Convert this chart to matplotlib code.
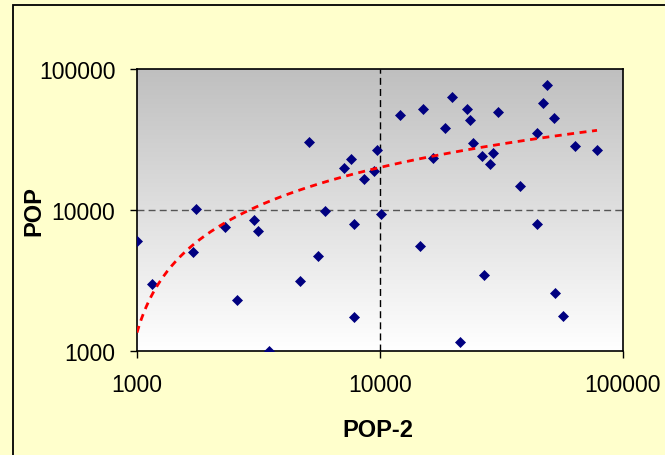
import numpy as np
import matplotlib
matplotlib.use("Agg")
import matplotlib.pyplot as plt
from matplotlib.patches import Rectangle

pop2 = [1000, 1152, 1700, 1749, 2302, 2579, 3030, 3148, 3491, 4690,
        5560, 5105, 5938, 7598, 7113, 8590, 9720, 9440, 7820, 7820,
        10090, 12080, 15030, 19770, 22800, 23450, 18510, 24150, 16520, 26300,
        29170, 28360, 30590, 48620, 46870, 52000, 44260, 63450, 78170, 37670,
        14610, 21330, 26800, 44260, 52480, 56620]
pop = [6026, 2986, 5035, 10160, 7575, 2300, 8490, 7100, 1000, 3137,
       4718, 30360, 9840, 23000, 19850, 16590, 26650, 18900, 7960, 1742,
       9380, 47200, 52000, 63300, 52000, 43450, 38150, 29850, 23400, 24150,
       25350, 21180, 49550, 77000, 57400, 44940, 35170, 28460, 26650, 14790,
       5560, 1158, 3460, 7960, 2577, 1770]
x_ticks = [1000, 10000, 100000]
y_ticks = [1000, 10000, 100000]
x_label = "POP-2"
y_label = "POP"

plt.rcParams['font.family'] = ['Liberation Sans', 'DejaVu Sans']

W, H = 665, 456
fig = plt.figure(figsize=(W / 100, H / 100), dpi=100)
fig.patch.set_facecolor('#FFFFCC')

# outer chart border (extends beyond the visible image)
fig.add_artist(Rectangle((13 / W, -0.1), 1.2, 1 - 6 / H + 0.1, transform=fig.transFigure,
                         fill=False, edgecolor='black', linewidth=1.3))

L, R, T, B = 137, 623, 70, 352
ax = fig.add_axes([L / W, 1 - B / H, (R - L) / W, (B - T) / H])
ax.set_xscale('log')
ax.set_yscale('log')
ax.set_xlim(1000, 100000)
ax.set_ylim(1000, 100000)

# gradient background: gray at top to white at bottom
grad = np.linspace(0, 1, 256).reshape(-1, 1)
top = np.array([0.75, 0.75, 0.75])
bot = np.array([1.0, 1.0, 1.0])
img = top[None, None, :] * (1 - grad[:, :, None]) + bot[None, None, :] * grad[:, :, None]
ax.imshow(img, extent=[0, 1, 0, 1], origin='upper', transform=ax.transAxes,
          aspect='auto', zorder=0)

# grid lines at the middle decade
ax.axhline(10000, color='#555555', linestyle=(0, (5, 3)), linewidth=1.0, zorder=1)
ax.axvline(10000, color='black', linestyle=(0, (5, 3)), linewidth=1.0, zorder=1)

# scatter
ax.plot(pop2, pop, linestyle='none', marker='D', markersize=4.8,
        markerfacecolor='#000080', markeredgecolor='#000080', markeredgewidth=0.5, zorder=3)

# logarithmic trend line
lx = np.log(np.array(pop2, dtype=float))
a, b = np.polyfit(lx, np.array(pop, dtype=float), 1)
xs = np.geomspace(min(pop2), max(pop2), 200)
ax.plot(xs, a * np.log(xs) + b, color='#FF0000', linewidth=2.0,
        linestyle=(0, (2.5, 2)), zorder=4)

ax.set_xticks(x_ticks)
ax.set_yticks(y_ticks)
ax.set_xticklabels([str(v) for v in x_ticks])
ax.set_yticklabels([str(v) for v in y_ticks])
ax.minorticks_off()
ax.tick_params(axis='both', which='major', direction='out', length=5, width=1,
               labelsize=16.5, pad=10.5, colors='black')

for s in ax.spines.values():
    s.set_color('black')
    s.set_linewidth(1.2)

fig.text(378 / W, 1 - 431 / H, x_label, ha='center', va='center',
         fontsize=17, fontweight='bold')
fig.text(34 / W, 1 - 211 / H, y_label, ha='center', va='center',
         fontsize=17, fontweight='bold', rotation=90)

fig.savefig('out.png', dpi=100, facecolor=fig.get_facecolor())
